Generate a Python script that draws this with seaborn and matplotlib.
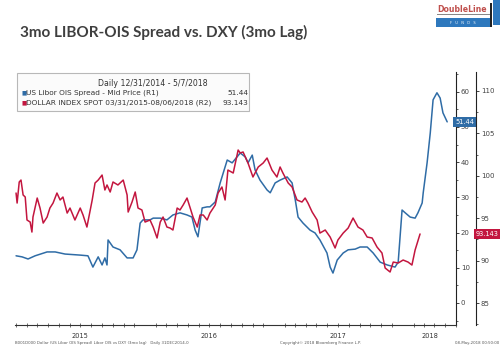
import pandas as pd
import matplotlib
matplotlib.use('Agg')
import matplotlib.pyplot as plt
import matplotlib.dates as mdates
import matplotlib.transforms as mtransforms
from matplotlib.patches import Rectangle
from matplotlib.ticker import MultipleLocator, FixedLocator, NullFormatter
import seaborn as sns

# US Libor OIS spread (bp), R1
libor_dates = ['2014-12-31', '2015-01-17', '2015-02-03', '2015-02-23', '2015-03-29', '2015-04-21',
               '2015-05-19', '2015-07-01', '2015-07-23', '2015-08-06', '2015-08-21', '2015-09-01',
               '2015-09-09', '2015-09-15', '2015-09-18', '2015-10-02', '2015-10-22', '2015-11-11',
               '2015-11-28', '2015-12-09', '2015-12-18', '2015-12-26', '2016-01-15', '2016-01-24',
               '2016-02-13', '2016-03-03', '2016-03-20', '2016-04-09', '2016-04-29', '2016-05-13',
               '2016-05-22', '2016-05-30', '2016-06-11', '2016-06-25', '2016-07-03', '2016-07-18',
               '2016-08-01', '2016-08-21', '2016-09-04', '2016-09-18', '2016-09-27', '2016-10-11',
               '2016-10-19', '2016-10-31', '2016-11-08', '2016-11-22', '2016-12-12', '2016-12-21',
               '2017-01-04', '2017-01-18', '2017-02-07', '2017-02-21', '2017-03-02', '2017-03-10',
               '2017-03-24', '2017-04-13', '2017-04-27', '2017-05-11', '2017-05-31', '2017-06-09',
               '2017-06-17', '2017-06-29', '2017-07-16', '2017-07-30', '2017-08-19', '2017-09-02',
               '2017-09-22', '2017-10-09', '2017-10-29', '2017-11-18', '2017-12-10', '2017-12-19',
               '2017-12-30', '2018-01-08', '2018-01-22', '2018-02-05', '2018-02-13', '2018-02-25',
               '2018-02-28', '2018-03-11', '2018-03-20', '2018-03-28', '2018-04-08', '2018-04-17',
               '2018-04-25', '2018-05-07']
libor_ois = [13.4, 13.1, 12.5, 13.4, 14.5, 14.5, 13.9, 13.6, 13.4, 10.2, 13.1, 10.8,
             12.8, 10.8, 17.9, 15.9, 15.1, 12.8, 12.8, 15.1, 22.7, 23.6, 23.6, 24.1,
             24.1, 23.6, 25.0, 25.6, 25.0, 24.4, 20.7, 18.8, 27.0, 27.3, 27.3, 28.7,
             34.1, 40.6, 39.8, 41.5, 42.6, 41.5, 39.8, 42.0, 37.8, 34.9, 32.1, 31.3,
             34.1, 34.9, 35.8, 34.1, 29.3, 24.4, 22.7, 20.7, 19.9, 17.9, 14.2, 10.2,
             8.5, 12.2, 14.2, 15.1, 15.3, 15.9, 15.9, 14.2, 11.6, 10.8, 10.2, 11.6,
             26.4, 25.6, 24.4, 24.1, 25.6, 28.4, 31.3, 39.8, 48.3, 57.7, 59.7, 58.2,
             54.0, 51.44]

# Dollar index spot, shifted 3 months back (R2)
dxy_dates = ['2014-12-31', '2015-01-03', '2015-01-09', '2015-01-14', '2015-01-20', '2015-01-26',
             '2015-01-31', '2015-02-09', '2015-02-14', '2015-02-17', '2015-03-01', '2015-03-09',
             '2015-03-18', '2015-03-29', '2015-04-06', '2015-04-15', '2015-04-26', '2015-05-05',
             '2015-05-13', '2015-05-25', '2015-06-02', '2015-06-16', '2015-07-01', '2015-07-09',
             '2015-07-20', '2015-08-04', '2015-08-12', '2015-08-21', '2015-09-01', '2015-09-09',
             '2015-09-15', '2015-09-24', '2015-10-02', '2015-10-16', '2015-10-31', '2015-11-11',
             '2015-11-14', '2015-11-25', '2015-12-04', '2015-12-12', '2015-12-23', '2016-01-01',
             '2016-01-15', '2016-01-24', '2016-02-04', '2016-02-13', '2016-02-21', '2016-03-03',
             '2016-03-12', '2016-03-20', '2016-04-01', '2016-04-09', '2016-04-18', '2016-04-29',
             '2016-05-08', '2016-05-16', '2016-05-28', '2016-06-05', '2016-06-14', '2016-06-25',
             '2016-07-03', '2016-07-18', '2016-07-26', '2016-08-06', '2016-08-15', '2016-08-23',
             '2016-09-07', '2016-09-21', '2016-09-27', '2016-10-05', '2016-10-19', '2016-11-02',
             '2016-11-17', '2016-12-01', '2016-12-12', '2016-12-26', '2017-01-09', '2017-01-18',
             '2017-01-26', '2017-02-10', '2017-02-21', '2017-03-07', '2017-03-21', '2017-03-30',
             '2017-04-07', '2017-04-19', '2017-05-03', '2017-05-11', '2017-05-26', '2017-06-09',
             '2017-06-23', '2017-07-01', '2017-07-16', '2017-07-30', '2017-08-13', '2017-08-27',
             '2017-09-10', '2017-09-22', '2017-10-06', '2017-10-20', '2017-11-03', '2017-11-12',
             '2017-11-26', '2017-12-05', '2017-12-19', '2018-01-02', '2018-01-16', '2018-01-27',
             '2018-02-05', '2018-02-19']
dxy = [97.97, 96.79, 99.27, 99.50, 97.74, 97.50, 94.79, 94.55, 93.37, 95.14, 97.38, 96.20,
       94.43, 95.14, 96.20, 96.79, 97.97, 97.15, 97.50, 95.61, 96.20, 94.79, 96.20, 95.38,
       93.96, 97.15, 99.15, 99.50, 100.09, 98.33, 98.92, 98.09, 99.27, 98.92, 99.50, 97.74,
       95.73, 96.91, 98.09, 96.20, 95.97, 94.55, 94.79, 93.96, 92.67, 94.55, 95.14, 93.96,
       93.84, 93.61, 96.20, 95.97, 96.56, 97.38, 96.20, 95.14, 93.96, 95.38, 95.38, 94.79,
       95.61, 96.56, 97.97, 98.68, 97.15, 100.68, 100.33, 103.04, 102.69, 102.81, 101.51, 99.86,
       101.04, 101.51, 102.10, 100.68, 99.86, 101.04, 100.33, 99.15, 98.68, 97.15, 96.91, 97.38,
       96.79, 95.73, 94.79, 93.25, 93.61, 92.78, 91.49, 92.43, 93.25, 93.84, 95.02, 93.96,
       93.61, 92.78, 92.67, 91.60, 90.90, 89.13, 88.66, 89.83, 89.72, 90.07, 89.83, 89.48,
       91.25, 93.143]

years = ['2015', '2016', '2017', '2018']
year_label_dates = ['2015-07-01', '2016-07-01', '2017-07-01', '2018-03-18']
year_starts = ['2016-01-01', '2017-01-01', '2018-01-01']

BLUE = '#2f6ca6'
RED = '#c3163f'
W, H = 500, 351


def fx(x):
    return x / W


def fy(y):
    return 1 - y / H


sns.set_style('white')
plt.rcParams['font.family'] = ['DejaVu Sans']

fig = plt.figure(figsize=(5, 3.51), dpi=100)
fig.patch.set_facecolor('white')

ax = fig.add_axes([fx(15), fy(325), fx(456) - fx(15), fy(72) - fy(325)])
ax.patch.set_alpha(0)
ax2 = ax.twinx()

df_libor = pd.DataFrame({'date': pd.to_datetime(libor_dates), 'value': libor_ois})
df_dxy = pd.DataFrame({'date': pd.to_datetime(dxy_dates), 'value': dxy})

sns.lineplot(data=df_libor, x='date', y='value', ax=ax, color=BLUE, lw=1.1)
sns.lineplot(data=df_dxy, x='date', y='value', ax=ax2, color=RED, lw=1.1)

ax.set_xlim(pd.Timestamp('2014-12-28'), pd.Timestamp('2018-06-01'))
ax.set_ylim(-6.25, 65.6)
ax2.set_ylim(82.41, 112.24)
for a in (ax, ax2):
    a.set_xlabel('')
    a.set_ylabel('')
    a.spines['left'].set_visible(False)
    a.spines['top'].set_visible(False)
ax2.spines['bottom'].set_visible(False)
ax.spines['right'].set_visible(True)
ax.spines['right'].set_color('#222222')
ax.spines['bottom'].set_color('#333333')
ax2.spines['right'].set_color('#222222')
ax2.spines['right'].set_position(('outward', 20 * 72 / 100))
for a in (ax, ax2):
    a.spines['right'].set_linewidth(0.8)
ax.spines['bottom'].set_linewidth(0.8)

# y axes
ax.yaxis.tick_right()
ax.yaxis.set_major_locator(MultipleLocator(10))
ax.yaxis.set_minor_locator(MultipleLocator(5))
ax2.yaxis.set_major_locator(MultipleLocator(5))
ax2.yaxis.set_minor_locator(MultipleLocator(2.5))
for a in (ax, ax2):
    a.tick_params(axis='y', which='major', direction='out', length=2.5, width=0.6,
                  pad=1, labelsize=5, labelcolor='#444444', color='#222222',
                  left=False, right=True, labelleft=False, labelright=True)
    a.tick_params(axis='y', which='minor', direction='out', length=1.5, width=0.5,
                  color='#222222', left=False, right=True)

# x axis: year separators + monthly ticks
ax.xaxis.set_major_locator(FixedLocator(mdates.date2num(pd.to_datetime(year_starts))))
ax.xaxis.set_major_formatter(NullFormatter())
ax.xaxis.set_minor_locator(mdates.MonthLocator())
ax.xaxis.set_minor_formatter(NullFormatter())
ax.tick_params(axis='x', which='major', direction='out', length=14, width=0.6, color='#aaaaaa')
ax.tick_params(axis='x', which='minor', direction='inout', length=2.5, width=0.5, color='#333333',
               bottom=True)
trans_x = mtransforms.blended_transform_factory(ax.transData, ax.transAxes)
for yr, d in zip(years, year_label_dates):
    ax.text(pd.Timestamp(d), -0.042, yr, transform=trans_x, ha='center', va='center',
            fontsize=4.8, color='#333333')

# last value tags
t1 = mtransforms.blended_transform_factory(ax.transAxes, ax.transData)
ax.text(0.998, libor_ois[-1], f'{libor_ois[-1]:.2f}', transform=t1, ha='left', va='center',
        fontsize=4.8, color='white', clip_on=False,
        bbox=dict(boxstyle='square,pad=0.25', fc=BLUE, ec='none'))
t2 = mtransforms.blended_transform_factory(ax2.transAxes, ax2.transData)
ax2.text(1.0 + 20 / 441, dxy[-1], f'{dxy[-1]:.3f}', transform=t2, ha='left', va='center',
         fontsize=4.8, color='white', clip_on=False,
         bbox=dict(boxstyle='square,pad=0.25', fc=RED, ec='none'))

# legend box
LEG_FS = 5.3
fig.add_artist(Rectangle((fx(17), fy(111)), fx(249) - fx(17), fy(73) - fy(111),
                         transform=fig.transFigure, fc='#fbfbfb', ec='#b8b8b8', lw=0.8))
fig.text(fx(153), fy(83), 'Daily 12/31/2014 - 5/7/2018', ha='center', va='center',
         fontsize=LEG_FS + 0.3, color='#333333')
fig.text(fx(21), fy(93), '\u25a0', ha='left', va='center', fontsize=4, color=BLUE)
fig.text(fx(26), fy(93), 'US Libor OIS Spread - Mid Price (R1)', ha='left', va='center',
         fontsize=LEG_FS, color='#333333')
fig.text(fx(248), fy(93), f'{libor_ois[-1]:.2f}', ha='right', va='center',
         fontsize=LEG_FS, color='#333333')
fig.text(fx(21), fy(103), '\u25a0', ha='left', va='center', fontsize=4, color=RED)
fig.text(fx(26), fy(103), 'DOLLAR INDEX SPOT 03/31/2015-08/06/2018 (R2)', ha='left', va='center',
         fontsize=LEG_FS, color='#333333')
fig.text(fx(248), fy(103), f'{dxy[-1]:.3f}', ha='right', va='center',
         fontsize=LEG_FS, color='#333333')

# title
fig.text(fx(20), fy(32), '3mo LIBOR-OIS Spread vs. DXY (3mo Lag)', ha='left', va='center',
         fontsize=11, fontweight='bold', family='Lato', color='#3f3f3f')

# logo
fig.text(fx(462), fy(9.5), 'DoubleLine', ha='center', va='center', fontsize=5.6,
         fontweight='bold', color='#c0504d')
fig.add_artist(Rectangle((fx(437), fy(14.5)), fx(490) - fx(437), 0.002,
                         transform=fig.transFigure, fc='#888888', ec='none'))
fig.add_artist(Rectangle((fx(436), fy(27)), fx(490) - fx(436), fy(18) - fy(27),
                         transform=fig.transFigure, fc='#2e78bd', ec='none'))
fig.text(fx(463), fy(22.5), 'F   U   N   D   S', ha='center', va='center', fontsize=2.5,
         color='white')
fig.add_artist(Rectangle((fx(490), fy(27)), fx(491.5) - fx(490), fy(3) - fy(27),
                         transform=fig.transFigure, fc='#222222', ec='none'))
fig.add_artist(Rectangle((fx(493), fy(25)), fx(500) - fx(493), fy(0) - fy(25),
                         transform=fig.transFigure, fc='#2e78bd', ec='none'))

# footer
fig.text(fx(15), fy(343), 'B001D000 Dollar (US Libor OIS Spread) Libor OIS vs DXY (3mo lag)   Daily 31DEC2014-0',
         ha='left', va='center', fontsize=2.8, color='#555555')
fig.text(fx(280), fy(343), 'Copyright\u00a9 2018 Bloomberg Finance L.P.', ha='left', va='center',
         fontsize=2.8, color='#555555')
fig.text(fx(499), fy(343), '08-May-2018 00:50:00', ha='right', va='center',
         fontsize=2.8, color='#555555')

fig.savefig('out.png', dpi=100, facecolor='white')
